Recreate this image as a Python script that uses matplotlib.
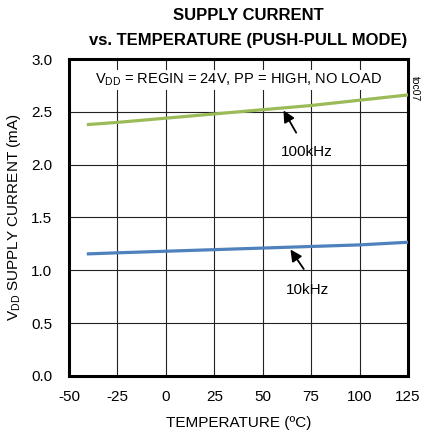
import matplotlib

matplotlib.use("Agg")
import matplotlib.pyplot as plt
import numpy as np

plt.rcParams["font.family"] = ["Liberation Sans", "DejaVu Sans"]

# ── Data
temps = [-40, -25, 0, 25, 50, 75, 100, 125]
i_100khz = [2.38, 2.40, 2.44, 2.48, 2.52, 2.56, 2.61, 2.66]
i_10khz = [1.155, 1.165, 1.18, 1.195, 1.21, 1.225, 1.24, 1.265]
x_ticks = [-50, -25, 0, 25, 50, 75, 100, 125]
y_ticks = [0.0, 0.5, 1.0, 1.5, 2.0, 2.5, 3.0]

fig = plt.figure(figsize=(4.21, 4.34), dpi=100)
ax = fig.add_axes([0.164, 0.134, 0.805, 0.730])

ax.plot(temps, i_100khz, color="#9BBB59", linewidth=2.3, zorder=3)
ax.plot(temps, i_10khz, color="#4F81BD", linewidth=2.3, zorder=3)

ax.set_xlim(-50, 125)
ax.set_ylim(0, 3.0)
ax.set_xticks(x_ticks)
ax.set_yticks(y_ticks)
ax.set_xticklabels([str(t) for t in x_ticks])
ax.set_yticklabels([f"{v:.1f}" for v in y_ticks])
ax.tick_params(axis="x", length=0, labelsize=11, pad=10)
ax.tick_params(axis="y", length=0, labelsize=11, pad=12)
ax.grid(True, color="#222222", linewidth=0.8)
for s in ax.spines.values():
    s.set_linewidth(2.2)
    s.set_color("black")

ax.set_xlabel("TEMPERATURE (ºC)", fontsize=11, labelpad=9)
ax.set_ylabel(r"V$_{\mathregular{DD}}$ SUPPLY CURRENT (mA)", fontsize=11, labelpad=6)

fig.text(0.59, 0.965, "SUPPLY CURRENT", ha="center", va="center",
         fontsize=12, fontweight="bold")
fig.text(0.59, 0.906, "vs. TEMPERATURE (PUSH-PULL MODE)", ha="center", va="center",
         fontsize=12, fontweight="bold")

ax.text(37.5, 2.80, r"V$_{\mathregular{DD}}$ = REGIN = 24V, PP = HIGH, NO LOAD",
        ha="center", va="center", fontsize=10.5,
        bbox=dict(facecolor="white", edgecolor="none", pad=1))
fig.text(0.985, 0.795, "toc07", rotation=-90, ha="center", va="center", fontsize=7.5)

# arrows
tip100 = 60
tip10 = 63.5
ax.annotate("", xy=(tip100, np.interp(tip100, temps, i_100khz)), xytext=(68, 2.28),
            arrowprops=dict(arrowstyle="-|>", color="black", lw=1.3, mutation_scale=17))
ax.text(73, 2.12, "100kHz", ha="center", va="center", fontsize=11)
ax.annotate("", xy=(tip10, np.interp(tip10, temps, i_10khz)), xytext=(72, 0.99),
            arrowprops=dict(arrowstyle="-|>", color="black", lw=1.3, mutation_scale=17))
ax.text(73, 0.81, "10kHz", ha="center", va="center", fontsize=11)

fig.savefig("out.png", dpi=100)
